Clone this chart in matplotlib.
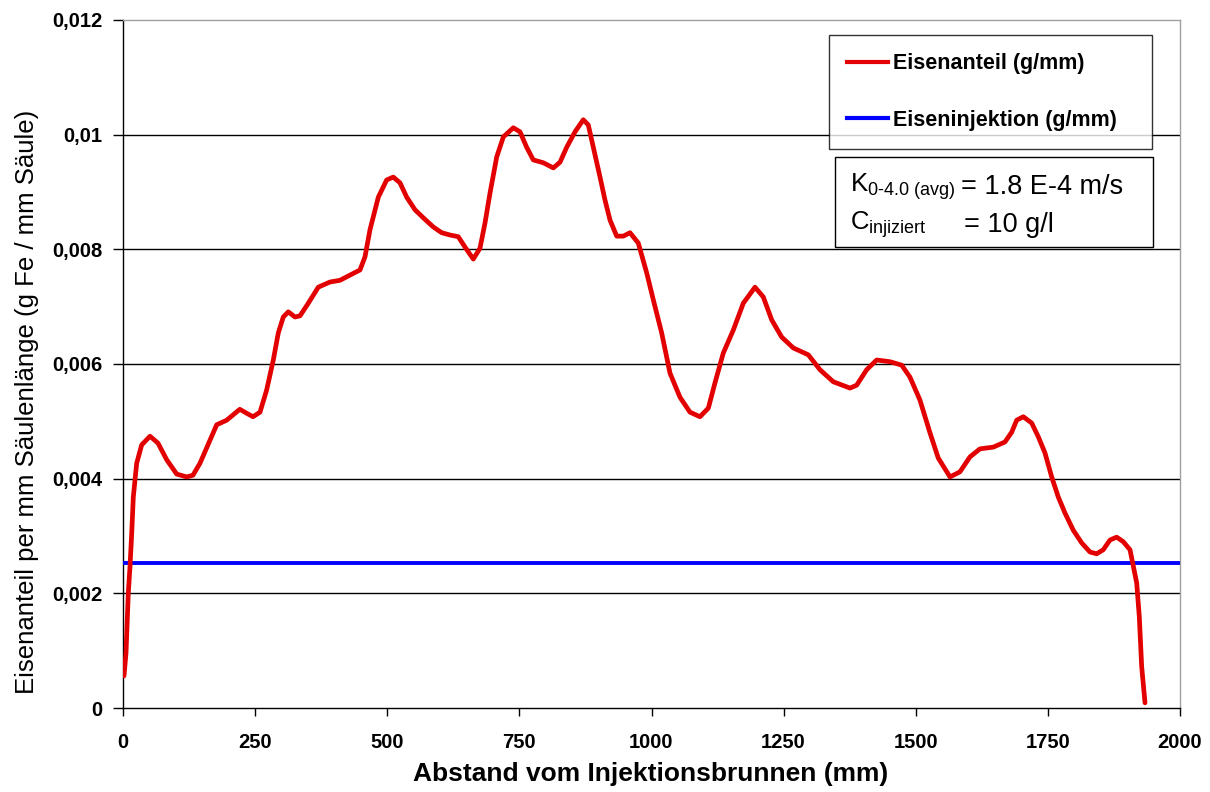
import matplotlib
matplotlib.use("Agg")
import matplotlib.pyplot as plt
from matplotlib.patches import Rectangle
from matplotlib.lines import Line2D

plt.rcParams['font.family'] = ['Liberation Sans', 'DejaVu Sans']
plt.rcParams['mathtext.fontset'] = 'custom'
plt.rcParams['mathtext.rm'] = 'Liberation Sans'
plt.rcParams['mathtext.it'] = 'Liberation Sans'

# ---- data ----
distance_mm = [1.9, 5.7, 10.0, 13.2, 16.5, 19.5, 25.9, 35.4, 51.1, 66.2, 82.7, 101.6,
               120.5, 132.4, 145.7, 164.6, 177.3, 196.2, 208.1, 221.0, 234.1, 246.0,
               259.2, 271.9, 284.4, 293.8, 303.3, 312.8, 325.4, 334.9, 350.6, 369.5,
               391.7, 410.6, 429.5, 448.4, 457.9, 467.3, 483.1, 498.9, 511.4, 524.1,
               536.8, 552.5, 568.2, 587.1, 603.0, 618.7, 634.4, 647.1, 662.8, 675.5,
               685.0, 694.4, 707.1, 719.6, 738.5, 751.2, 763.8, 776.3, 795.3, 814.2,
               826.9, 839.5, 855.3, 870.9, 880.4, 889.9, 902.6, 912.0, 921.5, 934.2,
               946.6, 959.3, 975.0, 990.9, 1003.4, 1019.3, 1035.0, 1053.9, 1072.8,
               1091.7, 1107.5, 1120.1, 1135.8, 1154.7, 1173.7, 1195.8, 1211.5, 1227.4,
               1246.3, 1268.3, 1296.7, 1318.8, 1344.0, 1375.6, 1388.2, 1407.1, 1426.1,
               1451.2, 1473.4, 1489.1, 1508.0, 1526.9, 1542.6, 1564.8, 1583.7, 1602.6,
               1621.5, 1646.7, 1668.8, 1681.5, 1691.0, 1703.5, 1719.4, 1731.9, 1744.5,
               1757.2, 1769.7, 1782.4, 1798.1, 1814.0, 1829.7, 1842.4, 1854.8, 1867.5,
               1880.2, 1892.7, 1905.4, 1910.5, 1918.1, 1923.0, 1927.5, 1933.8]
eisenanteil = [0.00056, 0.00096, 0.00200, 0.00246, 0.00305, 0.00368, 0.00427, 0.00459,
               0.00474, 0.00462, 0.00433, 0.00408, 0.00403, 0.00406, 0.00427, 0.00467,
               0.00494, 0.00502, 0.00511, 0.00521, 0.00514, 0.00508, 0.00516, 0.00555,
               0.00607, 0.00654, 0.00682, 0.00691, 0.00682, 0.00684, 0.00706, 0.00734,
               0.00743, 0.00746, 0.00755, 0.00764, 0.00787, 0.00834, 0.00891, 0.00921,
               0.00926, 0.00916, 0.00891, 0.00869, 0.00855, 0.00839, 0.00829, 0.00825,
               0.00822, 0.00804, 0.00783, 0.00802, 0.00846, 0.00898, 0.00961, 0.00996,
               0.01012, 0.01005, 0.00978, 0.00956, 0.00951, 0.00942, 0.00952, 0.00978,
               0.01005, 0.01026, 0.01017, 0.00978, 0.00926, 0.00886, 0.00851, 0.00823,
               0.00823, 0.00829, 0.00811, 0.00759, 0.00712, 0.00654, 0.00584, 0.00542,
               0.00516, 0.00508, 0.00523, 0.00567, 0.00619, 0.00659, 0.00706, 0.00734,
               0.00717, 0.00677, 0.00647, 0.00628, 0.00616, 0.00590, 0.00569, 0.00558,
               0.00563, 0.00590, 0.00607, 0.00604, 0.00598, 0.00577, 0.00537, 0.00480,
               0.00436, 0.00403, 0.00412, 0.00438, 0.00452, 0.00455, 0.00464, 0.00481,
               0.00502, 0.00508, 0.00497, 0.00473, 0.00445, 0.00403, 0.00368, 0.00340,
               0.00310, 0.00288, 0.00272, 0.00269, 0.00276, 0.00293, 0.00298, 0.00290,
               0.00276, 0.00253, 0.00218, 0.00159, 0.00072, 0.00009]
injektion_x = [0, 2000]
injektion_y = [0.00253, 0.00253]

x_ticks = [0, 250, 500, 750, 1000, 1250, 1500, 1750, 2000]
y_ticks = [0, 0.002, 0.004, 0.006, 0.008, 0.010, 0.012]
y_tick_labels = ['0', '0,002', '0,004', '0,006', '0,008', '0,01', '0,012']

series_labels = ['Eisenanteil (g/mm)', 'Eiseninjektion (g/mm)']
x_label = 'Abstand vom Injektionsbrunnen (mm)'
y_label = 'Eisenanteil per mm Säulenlänge (g Fe / mm Säule)'

# ---- figure ----
W, H = 1210, 792
fig = plt.figure(figsize=(W / 100, H / 100), dpi=100)
ax = fig.add_axes([123 / W, 1 - 708 / H, (1180 - 123) / W, (708 - 20) / H])

ax.set_xlim(0, 2000)
ax.set_ylim(0, 0.012)
ax.set_yticks(y_ticks)
ax.set_yticklabels(y_tick_labels)
ax.set_xticks(x_ticks)
ax.set_xticklabels([str(t) for t in x_ticks])

for y in y_ticks[1:-1]:
    ax.axhline(y, color='black', lw=1.0, zorder=1)

ax.plot(injektion_x, injektion_y, color='#0000ff', lw=2.8, zorder=3,
        solid_capstyle='butt')
ax.plot(distance_mm, eisenanteil, color='#e30000', lw=3.4, zorder=4,
        solid_joinstyle='round', solid_capstyle='round')

for s in ['left', 'bottom']:
    ax.spines[s].set_color('black')
    ax.spines[s].set_linewidth(1.0)
for s in ['top', 'right']:
    ax.spines[s].set_color('#a0a0a0')
    ax.spines[s].set_linewidth(1.0)

ax.tick_params(axis='y', direction='out', length=7, width=1, pad=8,
               labelsize=14.5, right=False)
ax.tick_params(axis='x', direction='out', length=6, width=1, pad=12,
               labelsize=14.5, top=False)
for lbl in ax.get_xticklabels() + ax.get_yticklabels():
    lbl.set_fontweight('bold')

fig.text(27 / W, 1 - 402 / H, y_label, rotation=90, ha='center', va='center',
         fontsize=18.5)
fig.text(651 / W, 1 - 774 / H, x_label, ha='center', va='center',
         fontsize=19, fontweight='bold')

# ---- legend ----
handles = [Line2D([], [], color='#e30000', lw=3.0),
           Line2D([], [], color='#0000ff', lw=3.0)]
leg_top, leg_bot = 35, 146
leg = ax.legend(handles, series_labels, loc='upper left',
                bbox_to_anchor=(829 / W, 1 - leg_bot / H, (1152 - 829) / W,
                                (leg_bot - leg_top) / H),
                bbox_transform=fig.transFigure, mode='expand',
                borderaxespad=0, frameon=True, fancybox=False,
                prop={'size': 15.5, 'weight': 'bold'}, borderpad=0.85,
                labelspacing=1.65, handlelength=1.9, handletextpad=0.2)
leg.get_frame().set_edgecolor('black')
leg.get_frame().set_linewidth(1.0)

# ---- info box ----
box = Rectangle((835 / W, 1 - 247 / H), (1153 - 835) / W, (247 - 157) / H,
                transform=fig.transFigure, facecolor='white', edgecolor='black',
                lw=1.0, zorder=5)
fig.patches.append(box)
fig.text(850 / W, 1 - 187 / H, r'K$_{\text{0-4.0 (avg)}}$', ha='left', va='center',
         fontsize=18.5, zorder=6)
fig.text(961 / W, 1 - 187 / H, '= 1.8 E-4 m/s', ha='left', va='center',
         fontsize=19.5, zorder=6)
fig.text(850 / W, 1 - 225 / H, r'C$_{\text{injiziert}}$', ha='left', va='center',
         fontsize=18.5, zorder=6)
fig.text(964 / W, 1 - 225 / H, '= 10 g/l', ha='left', va='center',
         fontsize=19.5, zorder=6)

fig.savefig('out.png', dpi=100)
